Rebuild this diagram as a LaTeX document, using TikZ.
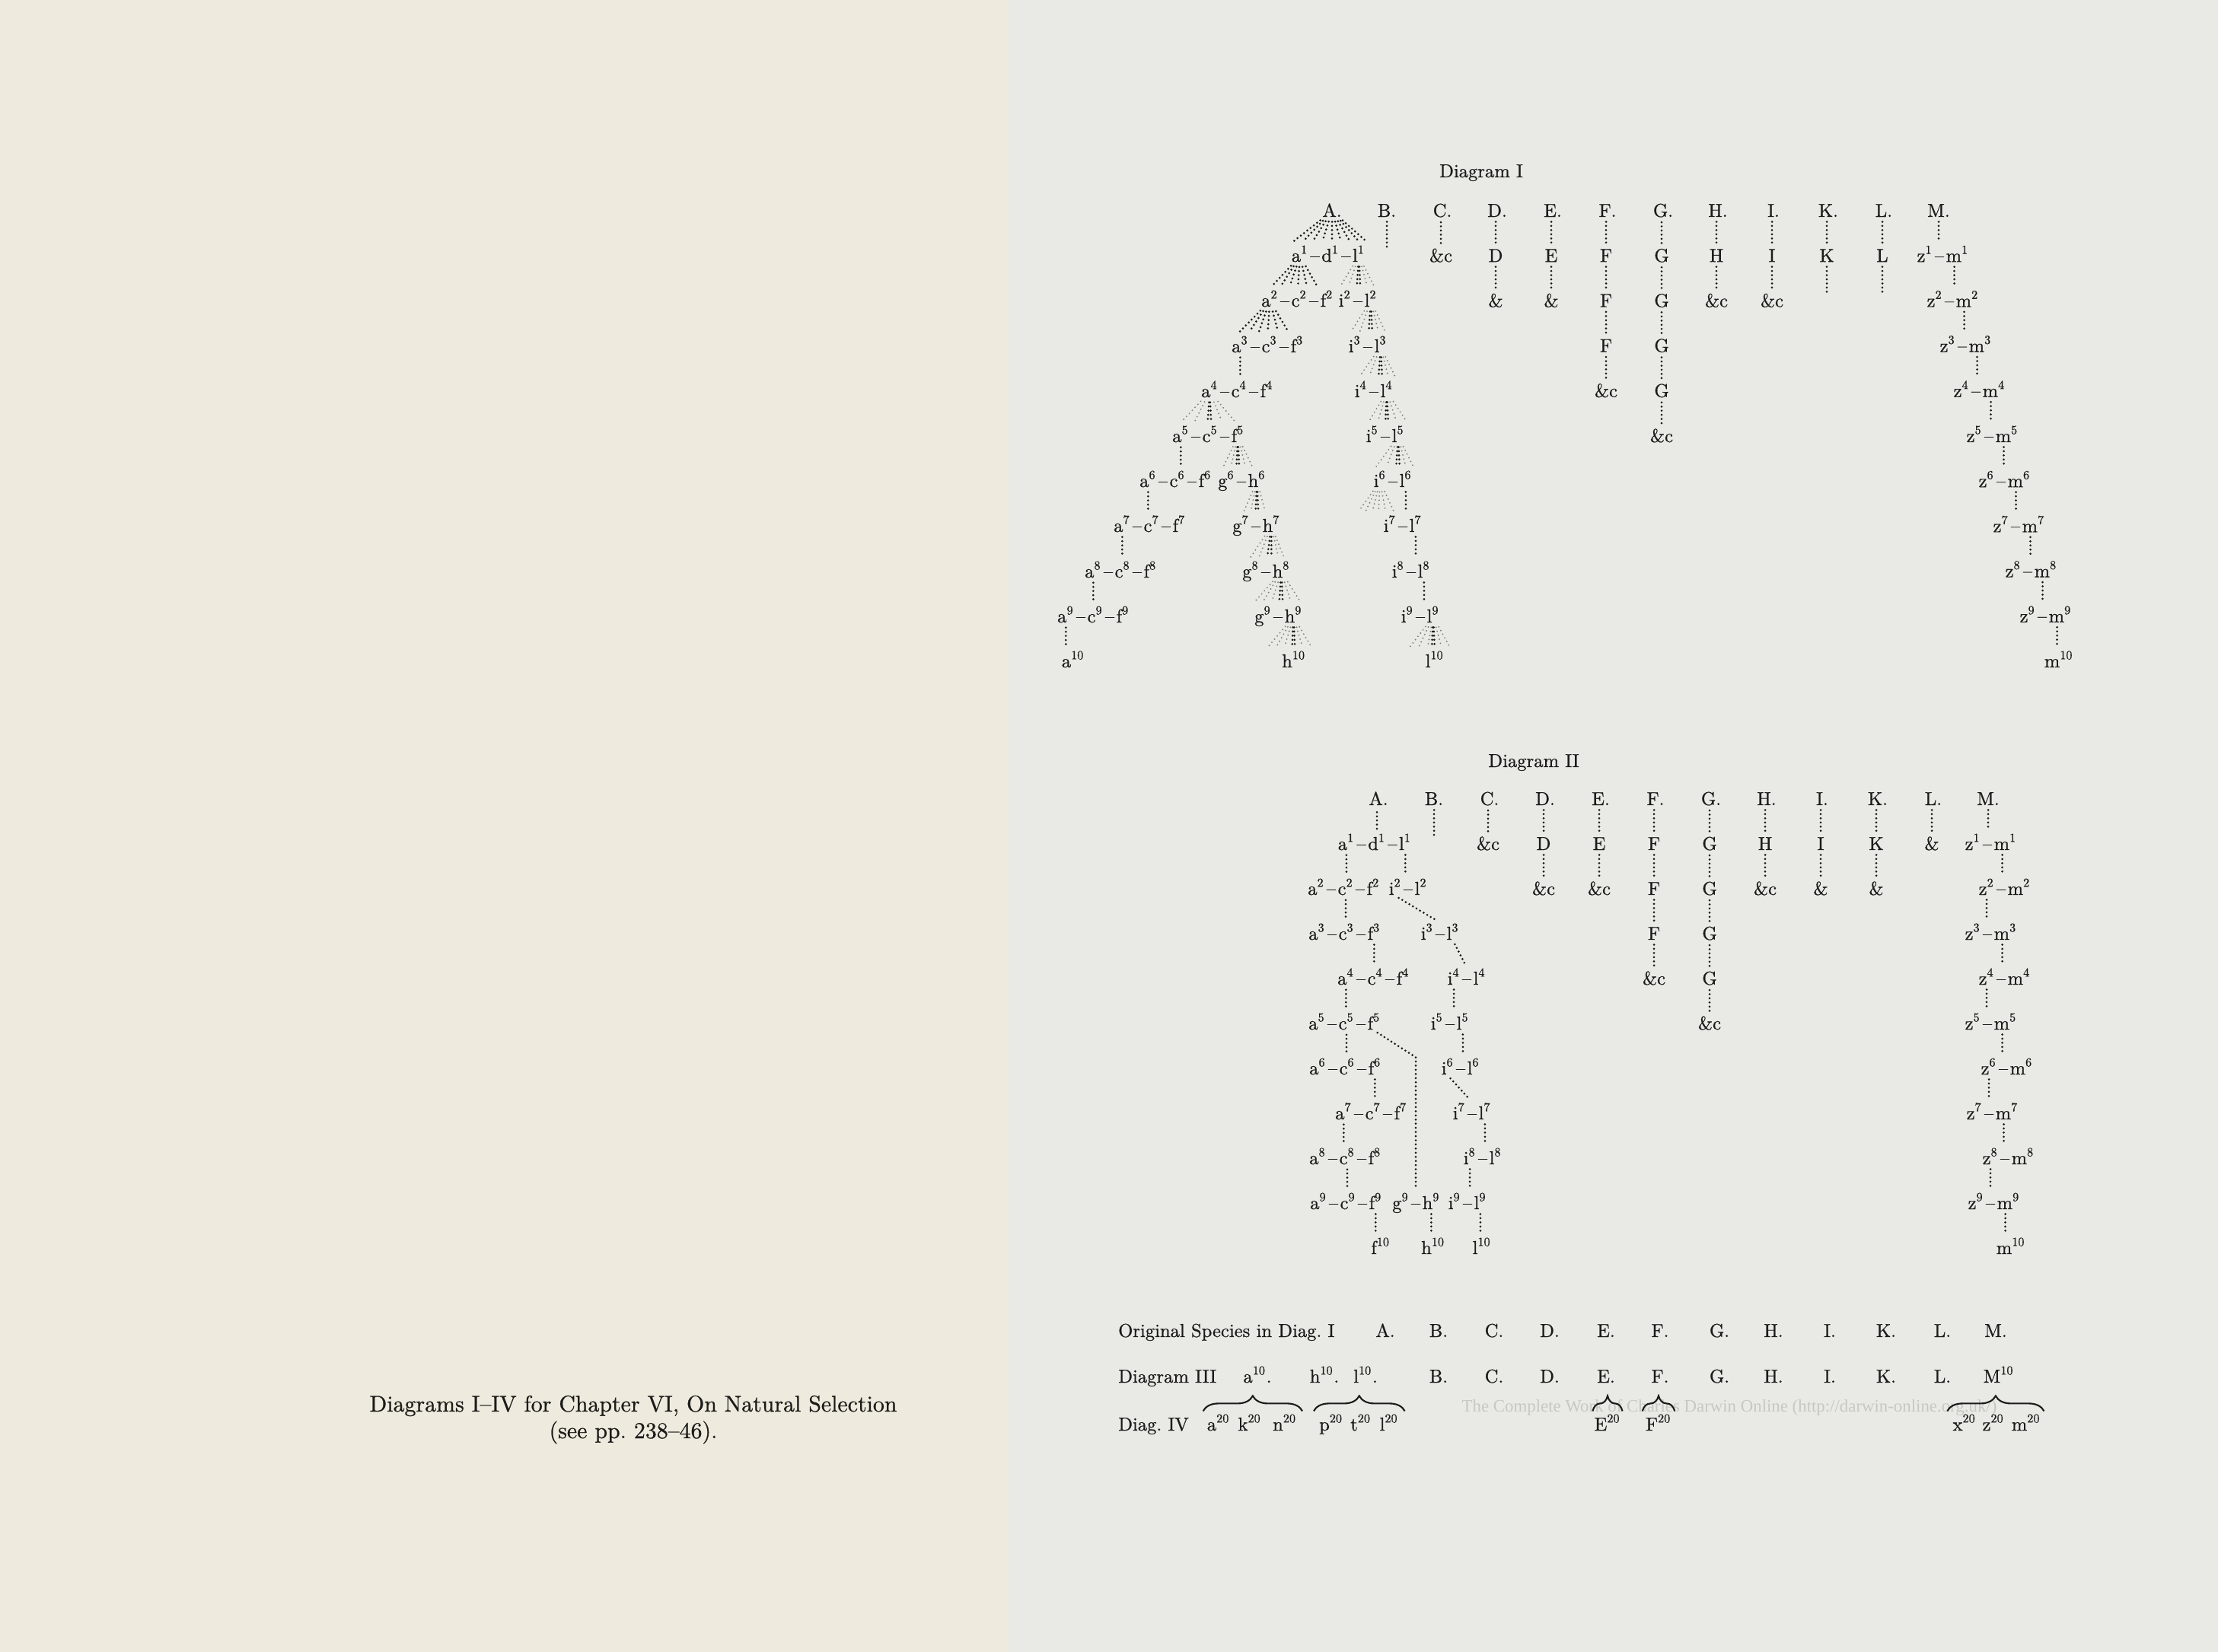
\documentclass[tikz,border=0pt]{standalone}
\usepackage{fontspec}
\setmainfont{lmroman10-regular.otf}[BoldFont=lmroman10-regular.otf, BoldFeatures={FakeBold=0.8}]
\newfontfamily\wmfont{Liberation Serif}
\usetikzlibrary{calc,decorations.pathreplacing}

\definecolor{pageL}{RGB}{238,234,222}
\definecolor{pageR}{RGB}{233,233,229}
\definecolor{ink}{RGB}{28,27,25}
\definecolor{faint}{RGB}{128,128,125}
\definecolor{wmark}{RGB}{199,199,196}
\newcommand\spfont{\fontsize{7}{8}\selectfont\bfseries}
\newcommand\capfont{\fontsize{8.5}{10}\selectfont\bfseries}
\newcommand\sps[1]{\textsuperscript{\fontsize{4.6}{5}\selectfont#1}}
% vertical dotted line from a node down to the level of the next row
\newcommand\vln[3][0pt]{\draw[dk] ($(#2.south)+(#1,0)$) -- ($(#2.south |- #3.north)+(#1,0)$);}
% fan of dotted lines from a node down to the next row
\newcommand\fan[3]{\foreach \dx/\st in {#3}
  {\draw[\st] ($(#1.south)+({0.2*(\dx)},0)$) -- ($(#1.south |- #2.north)+(\dx,0)$);}}

\tikzset{
  sp/.style={inner sep=0.15pt, anchor=base, font=\spfont, text=ink},
  dk/.style={draw=ink, line width=0.85pt, line cap=round, dash pattern=on 0pt off 1.55pt,
             shorten <=1.5pt, shorten >=1.5pt},
  lt/.style={dk, draw=faint, line width=0.6pt},
  brc/.style={draw=ink, line width=0.6pt, decorate, decoration={brace, amplitude=0.2cm}},
}
\tikzset{
  pics/trio/.style n args={4}{code={
    \node[sp] (-2) at (0,0) {#2\sps{#4}};
    \node[sp, anchor=base east] (-da) at (-2.base west) {--};
    \node[sp, anchor=base east] (-1) at (-da.base west) {#1\sps{#4}};
    \node[sp, anchor=base west] (-db) at (-2.base east) {--};
    \node[sp, anchor=base west] (-3) at (-db.base east) {#3\sps{#4}};
  }},
  pics/duo/.style n args={3}{code={
    \node[sp] (-d) at (0,0) {--};
    \node[sp, anchor=base east] (-1) at (-d.base west) {#1\sps{#3}};
    \node[sp, anchor=base west] (-2) at (-d.base east) {#2\sps{#3}};
  }},
}

\begin{document}
\begin{tikzpicture}
%pages
\fill[pageL] (0,0) rectangle (13.25,-21.71);
\fill[pageR] (13.25,0) rectangle (29.14,-21.71);
\useasboundingbox (0,0) rectangle (29.14,-21.71);

%caption
\node[sp, font=\capfont] (cap1) at (8.32,-18.55) {Diagrams I--IV for Chapter VI, On Natural Selection};
\node[sp, font=\capfont] (cap2) at (8.32,-18.90) {(see pp.~238--46).};

%%%%% Diagram I
\node[sp] (tI) at (19.46,-2.33) {Diagram I};
\foreach \c/\x in {A/17.50,B/18.22,C/18.95,D/19.67,E/20.40,F/21.12,G/21.85,H/22.57,I/23.30,K/24.02,L/24.75,M/25.47}
  \node[sp] (I0-\c) at (\x,-2.85) {\c.};

%side columns
\foreach \c/\x/\lst in {C/18.93/{\&c},D/19.65/{D,\&},E/20.38/{E,\&},F/21.10/{F,F,F,\&c},
    G/21.83/{G,G,G,G,\&c},H/22.55/{H,\&c},I/23.28/{I,\&c},K/24.00/{K},L/24.73/{L}}
  {\foreach \lab [count=\k] in \lst {
    \pgfmathtruncatemacro\kp{\k-1}
    \node[sp] (I\k-\c) at (\x,-2.85-0.592*\k) {\lab};
    \draw[dk] (I\kp-\c.south -| I\k-\c.north) -- (I\k-\c.north);
  }}
\draw[dk] (I0-B.south) -- ++(0,-0.45) coordinate (I-Bt);
\draw[dk] (I1-K.south) -- ++(0,-0.46) coordinate (I-Kt);
\draw[dk] (I1-L.south) -- ++(0,-0.46) coordinate (I-Lt);

%M line
\foreach \k/\x in {1/25.48,2/25.61,3/25.78,4/25.96,5/26.13,6/26.29,7/26.48,8/26.64,9/26.83}
  {\pic (I\k-M) at (\x,-2.85-0.592*\k) {duo={z}{m}{\k}};}
\node[sp] (I10-M-2) at (27.05,-8.77) {m\sps{10}};
\draw[dk] (I0-M.south) -- (I0-M.south |- I1-M-2.north);
\foreach \k [count=\j from 2] in {1,...,9}
  {\vln[-1.2pt]{I\k-M-2}{I\j-M-2}}

%A and I lines
\pic (I1) at (17.48,-3.44) {trio={a}{d}{l}{1}};
\pic (I2) at (17.07,-4.03) {trio={a}{c}{f}{2}};
\pic (I2b) at (17.84,-4.03) {duo={i}{l}{2}};
\pic (I3) at (16.68,-4.63) {trio={a}{c}{f}{3}};
\pic (I3b) at (17.97,-4.63) {duo={i}{l}{3}};
\pic (I4) at (16.28,-5.22) {trio={a}{c}{f}{4}};
\pic (I4b) at (18.05,-5.22) {duo={i}{l}{4}};
\pic (I5) at (15.90,-5.81) {trio={a}{c}{f}{5}};
\pic (I5b) at (18.20,-5.81) {duo={i}{l}{5}};
\pic (I6) at (15.47,-6.40) {trio={a}{c}{f}{6}};
\pic (I6g) at (16.31,-6.40) {duo={g}{h}{6}};
\pic (I6b) at (18.30,-6.40) {duo={i}{l}{6}};
\pic (I7) at (15.13,-6.99) {trio={a}{c}{f}{7}};
\pic (I7g) at (16.50,-6.99) {duo={g}{h}{7}};
\pic (I7b) at (18.43,-6.99) {duo={i}{l}{7}};
\pic (I8) at (14.75,-7.59) {trio={a}{c}{f}{8}};
\pic (I8g) at (16.63,-7.59) {duo={g}{h}{8}};
\pic (I8b) at (18.54,-7.59) {duo={i}{l}{8}};
\pic (I9) at (14.39,-8.18) {trio={a}{c}{f}{9}};
\pic (I9g) at (16.79,-8.18) {duo={g}{h}{9}};
\pic (I9b) at (18.66,-8.18) {duo={i}{l}{9}};
\node[sp] (I10-a) at (14.10,-8.77) {a\sps{10}};
\node[sp] (I10-h) at (17.00,-8.77) {h\sps{10}};
\node[sp] (I10-l) at (18.85,-8.77) {l\sps{10}};

\fan{I0-A}{I1-2}{-0.56/dk,-0.42/dk,-0.28/dk,-0.14/dk,0/dk,0.13/dk,0.26/dk,0.39/dk,0.50/dk}
\fan{I1-1}{I2-2}{-0.41/dk,-0.28/dk,-0.15/dk,-0.03/dk,0.10/dk,0.25/dk}
\fan{I1-3}{I2b-2}{-0.27/lt,-0.15/lt,-0.03/dk,0.02/dk,0.12/lt,0.22/lt}
\fan{I2-1}{I3-2}{-0.44/dk,-0.30/dk,-0.16/dk,-0.03/dk,0.12/dk,0.27/dk}
\fan{I2b-2}{I3b-2}{-0.29/lt,-0.16/lt,-0.03/dk,0.02/dk,0.11/lt,0.21/lt}
\vln{I3-1}{I4-2}
\fan{I3b-2}{I4b-2}{-0.31/lt,-0.17/lt,-0.03/dk,0.02/dk,0.11/lt,0.21/lt}
\fan{I4-1}{I5-2}{-0.41/lt,-0.22/lt,-0.03/dk,0.02/dk,0.18/lt,0.37/lt}
\fan{I4b-2}{I5b-2}{-0.26/lt,-0.13/lt,-0.02/dk,0.02/dk,0.14/lt,0.29/lt}
\vln{I5-1}{I6-2}
\fan{I5-3}{I6g-2}{-0.21/lt,-0.10/lt,-0.02/dk,0.02/dk,0.11/lt,0.21/lt}
\fan{I5b-2}{I6b-2}{-0.32/lt,-0.17/lt,-0.03/dk,0.02/dk,0.11/lt,0.22/lt}
\vln{I6-1}{I7-2}
\fan{I6g-2}{I7g-2}{-0.19/lt,-0.09/lt,-0.02/dk,0.02/dk,0.12/lt}
\fan{I6b-1}{I7b-2}{-0.31/lt,-0.21/lt,-0.11/lt,-0.02/lt,0.08/lt,0.20/lt}
\vln{I6b-2}{I7b-2}
\vln{I7-1}{I8-2}
\fan{I7g-2}{I8g-2}{-0.30/lt,-0.18/lt,-0.06/dk,0/dk,0.10/lt,0.18/lt}
\vln{I7b-2}{I8b-2}
\vln{I8-1}{I9-2}
\fan{I8g-2}{I9g-2}{-0.39/lt,-0.27/lt,-0.14/lt,-0.03/dk,0.02/dk,0.14/lt,0.28/lt}
\vln{I8b-2}{I9b-2}
\vln{I9-1}{I10-a}
\fan{I9g-2}{I10-h}{-0.37/lt,-0.25/lt,-0.13/lt,-0.02/dk,0.02/dk,0.13/lt,0.26/lt}
\fan{I9b-2}{I10-l}{-0.34/lt,-0.21/lt,-0.08/lt,-0.02/dk,0.02/dk,0.12/lt,0.24/lt}

%%%%% Diagram II
\node[sp] (tII) at (20.15,-10.08) {Diagram II};
\foreach \c/\x in {A/18.11,B/18.84,C/19.57,D/20.30,E/21.03,F/21.75,G/22.48,H/23.21,I/23.94,K/24.67,L/25.40,M/26.12}
  \node[sp] (II0-\c) at (\x,-10.58) {\c.};

\foreach \c/\x/\lst in {C/19.55/{\&c},D/20.28/{D,\&c},E/21.01/{E,\&c},F/21.73/{F,F,F,\&c},
    G/22.46/{G,G,G,G,\&c},H/23.19/{H,\&c},I/23.92/{I,\&},K/24.65/{K,\&},L/25.38/{\&}}
  {\foreach \lab [count=\k] in \lst {
    \pgfmathtruncatemacro\kp{\k-1}
    \node[sp] (II\k-\c) at (\x,-10.58-0.59*\k) {\lab};
    \draw[dk] (II\kp-\c.south -| II\k-\c.north) -- (II\k-\c.north);
  }}
\draw[dk] (II0-B.south) -- ++(0,-0.44) coordinate (II-Bt);

%M line
\foreach \k/\x in {1/26.11,2/26.29,3/26.11,4/26.29,5/26.11,6/26.32,7/26.13,8/26.34,9/26.15}
  {\pic (II\k-M) at (\x,-10.58-0.59*\k) {duo={z}{m}{\k}};}
\node[sp] (II10-M-2) at (26.42,-16.48) {m\sps{10}};
\draw[dk] (II0-M.south) -- (II0-M.south |- II1-M-2.north);
\foreach \k/\s/\sh [count=\j from 2] in {1/2/-1.2pt,2/1/0pt,3/2/-1.2pt,4/1/0pt,5/2/-1.2pt,6/1/0pt,7/2/-1.2pt,8/1/0pt,9/2/-1.2pt}
  {\vln[\sh]{II\k-M-\s}{II\j-M-2}}

%A and I lines
\pic (II1) at (18.09,-11.17) {trio={a}{d}{l}{1}};
\pic (II2) at (17.68,-11.76) {trio={a}{c}{f}{2}};
\pic (II2b) at (18.50,-11.76) {duo={i}{l}{2}};
\pic (II3) at (17.69,-12.35) {trio={a}{c}{f}{3}};
\pic (II3b) at (18.92,-12.35) {duo={i}{l}{3}};
\pic (II4) at (18.07,-12.94) {trio={a}{c}{f}{4}};
\pic (II4b) at (19.27,-12.94) {duo={i}{l}{4}};
\pic (II5) at (17.69,-13.53) {trio={a}{c}{f}{5}};
\pic (II5b) at (19.05,-13.53) {duo={i}{l}{5}};
\pic (II6) at (17.70,-14.12) {trio={a}{c}{f}{6}};
\pic (II6b) at (19.19,-14.12) {duo={i}{l}{6}};
\pic (II7) at (18.04,-14.71) {trio={a}{c}{f}{7}};
\pic (II7b) at (19.34,-14.71) {duo={i}{l}{7}};
\pic (II8) at (17.70,-15.30) {trio={a}{c}{f}{8}};
\pic (II8b) at (19.48,-15.30) {duo={i}{l}{8}};
\pic (II9) at (17.71,-15.89) {trio={a}{c}{f}{9}};
\pic (II9g) at (18.60,-15.89) {duo={g}{h}{9}};
\pic (II9b) at (19.28,-15.89) {duo={i}{l}{9}};
\node[sp] (II10-f) at (18.14,-16.48) {f\sps{10}};
\node[sp] (II10-h) at (18.83,-16.48) {h\sps{10}};
\node[sp] (II10-l) at (19.47,-16.48) {l\sps{10}};

\draw[dk] (II1-2.north) -- (II1-2.north |- II0-A.south);
\vln{II1-1}{II2-2}
\vln{II1-3}{II2b-2}
\vln{II2-2}{II3-2}
\draw[dk] (II2b-1.south) -- (II3b-d |- II3b-2.north);
\vln{II3-3}{II4-2}
\draw[dk] (II3b-2.south) -- (II4b-d |- II4b-2.north);
\vln{II4-1}{II5-2}
\vln{II4b-1}{II5b-2}
\vln{II5-2}{II6-2}
\draw[dk] (II5-3.south) -- (II9g-d |- II6-3.north) -- (II9g-d |- II9g-2.north);
\vln{II5b-2}{II6b-2}
\vln{II6-3}{II7-2}
\draw[dk] (II6b-1.south) -- (II7b-d |- II7b-2.north);
\vln{II7-1}{II8-2}
\vln{II7b-2}{II8b-2}
\vln{II8-2}{II9-2}
\vln{II8b-1}{II9b-2}
\vln{II9-3}{II10-f}
\vln{II9g-2}{II10-h}
\vln{II9b-2}{II10-l}

%%%%% Diagrams III and IV
\node[anchor=base, font=\wmfont\fontsize{6.5}{7}\selectfont, text=wmark] (wm) at (22.72,-18.55)
  {The Complete Work of Charles Darwin Online (http://darwin-online.org.uk/)};

\node[sp, anchor=base west] (os) at (14.68,-17.57) {Original Species in Diag.~I};
\foreach \c/\x in {A/18.20,B/18.90,C/19.63,D/20.36,E/21.10,F/21.81,G/22.59,H/23.30,I/24.04,K/24.78,L/25.52,M/26.22}
  \node[sp] (os-\c) at (\x,-17.57) {\c.};

\node[sp, anchor=base west] (d3) at (14.68,-18.17) {Diagram III};
\node[sp] (d3-a) at (16.52,-18.17) {a\sps{10}.};
\node[sp] (d3-h) at (17.40,-18.17) {h\sps{10}.};
\node[sp] (d3-l) at (17.94,-18.17) {l\sps{10}.};
\foreach \c/\x in {B/18.90,C/19.63,D/20.36,E/21.10,F/21.81,G/22.59,H/23.30,I/24.04,K/24.78,L/25.52}
  \node[sp] (d3-\c) at (\x,-18.17) {\c.};
\node[sp] (d3-M) at (26.26,-18.17) {M\sps{10}};

\node[sp, anchor=base west] (d4) at (14.68,-18.80) {Diag.~IV};
\foreach \n/\x in {a/16.01,k/16.42,n/16.88,p/17.49,t/17.88,l/18.25,E/21.12,F/21.79,x/25.81,z/26.19,m/26.62}
  \node[sp] (IV-\n) at (\x,-18.80) {\n\sps{20}};

\draw[brc] ($(IV-a.north west)+(-0.04,0.03)$) -- ($(IV-n.north east)+(0.06,0.03)$);
\draw[brc] ($(IV-p.north west)+(-0.06,0.03)$) -- ($(IV-l.north east)+(0.07,0.03)$);
\draw[brc] ($(IV-E.north west)+(-0.01,0.03)$) -- ($(IV-E.north east)+(0.01,0.03)$);
\draw[brc] ($(IV-F.north west)+(-0.03,0.03)$) -- ($(IV-F.north east)+(0.03,0.03)$);
\draw[brc] ($(IV-x.north west)+(-0.06,0.03)$) -- ($(IV-m.north east)+(0.03,0.03)$);
\end{tikzpicture}
\end{document}
